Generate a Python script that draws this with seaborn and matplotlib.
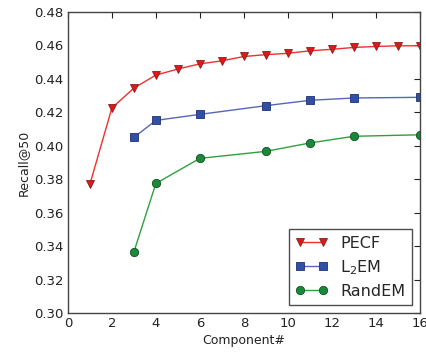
import numpy as np
import pandas as pd
import matplotlib
matplotlib.use("Agg")
import matplotlib.pyplot as plt
import seaborn as sns

pecf_x = list(range(1, 17))
pecf_y = [0.377, 0.4226, 0.4345, 0.4423, 0.4459, 0.4490, 0.4508, 0.4534, 0.4545,
          0.4553, 0.4568, 0.4577, 0.4588, 0.4594, 0.4598, 0.4598]
l2em_x = [3, 4, 6, 9, 11, 13, 16]
l2em_y = [0.405, 0.4152, 0.4188, 0.4240, 0.4272, 0.4286, 0.4290]
rand_x = [3, 4, 6, 9, 11, 13, 16]
rand_y = [0.3365, 0.3775, 0.3925, 0.3967, 0.4017, 0.4057, 0.4066]

sns.set_style("white")
plt.rcParams['font.family'] = ['DejaVu Sans']

fig = plt.figure(figsize=(4.27, 3.53), dpi=100)
ax = fig.add_axes([0.159, 0.113, 0.824, 0.853])

sns.lineplot(x=pecf_x, y=pecf_y, ax=ax, color="#f03030", marker="v", markersize=6,
             markerfacecolor="#e01818", markeredgecolor="#802020", markeredgewidth=0.6,
             linewidth=1.0, label="PECF")
sns.lineplot(x=l2em_x, y=l2em_y, ax=ax, color="#5566bb", marker="s", markersize=6,
             markerfacecolor="#3050a8", markeredgecolor="#203070", markeredgewidth=0.6,
             linewidth=1.0, label="L$_2$EM")
sns.lineplot(x=rand_x, y=rand_y, ax=ax, color="#30a040", marker="o", markersize=6,
             markerfacecolor="#1a8a3a", markeredgecolor="#105020", markeredgewidth=0.6,
             linewidth=1.0, label="RandEM")

ax.set_xlim(0, 16)
ax.set_ylim(0.30, 0.48)
ax.set_xticks(np.arange(0, 17, 2))
ax.set_yticks(np.arange(0.30, 0.481, 0.02))
ax.set_yticklabels([f"{v:.2f}" for v in np.arange(0.30, 0.481, 0.02)])
ax.tick_params(direction="in", top=True, right=True, length=4, width=0.8,
               labelsize=9.5, colors="#222222", pad=3)
for s in ax.spines.values():
    s.set_color("#444444")
    s.set_linewidth(1.0)
ax.set_xlabel("Component#", fontsize=9, color="#222222", labelpad=3)
ax.set_ylabel("Recall@50", fontsize=9, color="#222222", labelpad=3)

leg = ax.legend(loc="lower right", fontsize=11.5, frameon=True, fancybox=False,
                edgecolor="#222222", borderaxespad=0.5, handlelength=2.0,
                numpoints=2, labelspacing=0.45, borderpad=0.4, handletextpad=0.8)
leg.get_frame().set_linewidth(1.0)

fig.savefig("out.png", dpi=100)
